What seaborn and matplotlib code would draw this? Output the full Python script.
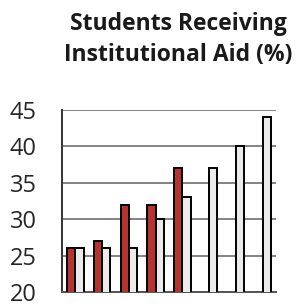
import matplotlib
matplotlib.use('Agg')
import matplotlib.pyplot as plt
import seaborn as sns
import pandas as pd
import numpy as np

# data
groups = ['G1', 'G2', 'G3', 'G4', 'G5', 'G6', 'G7', 'G8']
red_vals = [26, 27, 32, 32, 37, 0, 0, 0]
gray_vals = [26, 26, 26, 30, 33, 37, 40, 44]
series = ['A', 'B']
yticks = [20, 25, 30, 35, 40, 45]

df = pd.DataFrame({
    'group': groups * 2,
    'series': [series[0]] * len(groups) + [series[1]] * len(groups),
    'value': red_vals + gray_vals,
})

sns.set_style('white')
plt.rcParams['font.family'] = ['Open Sans', 'DejaVu Sans']

fig = plt.figure(figsize=(2.98, 3.06), dpi=100)
ax = fig.add_axes([62 / 298, 1 - 292 / 306, (276 - 62) / 298, (292 - 110) / 306])

sns.barplot(data=df, x='group', y='value', hue='series', order=groups,
            palette={'A': '#cc1f1a', 'B': '#ebebeb'}, width=0.62,
            edgecolor='black', linewidth=1.4, legend=False, ax=ax, zorder=3)

ax.set_ylim(20, 45)
ax.set_xlim(-0.5, len(groups) - 0.5)
ax.set_yticks(yticks)
ax.set_yticklabels([str(t) for t in yticks], fontsize=17)
ax.set_xticks(np.arange(len(groups) + 1) - 0.5)
ax.set_xticklabels([])
ax.set_xlabel('')
ax.set_ylabel('')
ax.grid(axis='y', color='#7a7a7a', linewidth=1.3, zorder=0)
ax.tick_params(axis='y', length=9, width=1.3, color='#7a7a7a', pad=9)
ax.tick_params(axis='x', length=7, width=1.3, color='#333333', direction='out')

for s in ['top', 'right']:
    ax.spines[s].set_visible(False)
ax.spines['left'].set_color('#333333')
ax.spines['left'].set_linewidth(1.4)
ax.spines['bottom'].set_color('#555555')
ax.spines['bottom'].set_linewidth(1.4)

fig.text(0.599, 0.96, 'Students Receiving\nInstitutional Aid (%)',
         ha='center', va='top', fontsize=16.5, fontweight='bold',
         linespacing=1.4, color='#1a1a1a')

fig.savefig('out.png', dpi=100)
